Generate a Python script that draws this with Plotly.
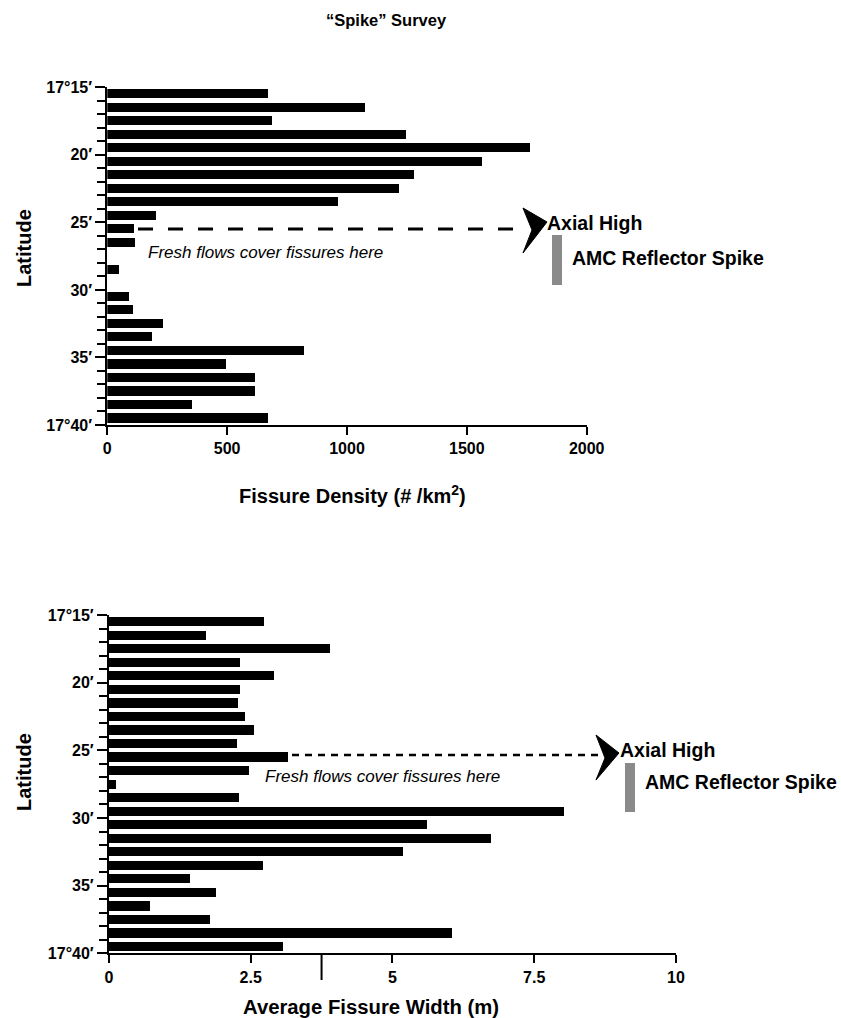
import plotly.graph_objects as go

W, H = 841, 1018

# ---- data ----
lat_start_min = list(range(15, 40))  # bins 17°15'-16' ... 17°39'-40'
density = [673, 1076, 688, 1246, 1763, 1565, 1281, 1218, 964, 206, 114, 116, 0,
           49, 0, 92, 107, 235, 186, 822, 496, 617, 617, 356, 672]
avg_width = [2.73, 1.71, 3.90, 2.31, 2.91, 2.31, 2.28, 2.40, 2.55, 2.25, 3.15, 2.47, 0.13,
             2.29, 8.02, 5.60, 6.74, 5.18, 2.71, 1.42, 1.89, 0.73, 1.78, 6.05, 3.06]
ytick_vals = [15, 20, 25, 30, 35, 40]
ytick_text = ["17°15′", "20′", "25′", "30′", "35′", "17°40′"]
x1_ticks = [0, 500, 1000, 1500, 2000]
x2_ticks = [0, 2.5, 5, 7.5, 10]
x2_ticktext = ["0", "2.5", "5", "7.5", "10"]

bar_centers = [m + 0.5 for m in lat_start_min]

FONT = "Liberation Sans, Arial, sans-serif"


def X(px):
    return px / W


def Y(py):
    return 1 - py / H


fig = go.Figure()
fig.add_trace(go.Bar(x=density, y=bar_centers, orientation="h", width=0.68,
                     marker=dict(color="black", line=dict(width=0)),
                     xaxis="x", yaxis="y", showlegend=False))
fig.add_trace(go.Bar(x=avg_width, y=bar_centers, orientation="h", width=0.68,
                     marker=dict(color="black", line=dict(width=0)),
                     xaxis="x2", yaxis="y2", showlegend=False))

tickfont = dict(family=FONT, size=16, color="black", weight="bold")
yax_common = dict(range=[40, 15], tickmode="array", tickvals=ytick_vals, ticktext=ytick_text,
                  ticks="outside", ticklen=10, tickwidth=2, tickcolor="black",
                  showline=True, linewidth=2, linecolor="black", showgrid=False,
                  zeroline=False, tickfont=tickfont,
                  minor=dict(tickmode="array", tickvals=list(range(15, 41)), ticks="outside",
                             ticklen=8, tickwidth=2, tickcolor="black", showgrid=False))
xax_common = dict(ticks="outside", ticklen=8, tickwidth=2, tickcolor="black",
                  showline=True, linewidth=2, linecolor="black", showgrid=False,
                  zeroline=False, tickfont=tickfont)

fig.update_layout(
    autosize=True,
    margin=dict(l=0, r=0, t=0, b=0, autoexpand=False),
    paper_bgcolor="white", plot_bgcolor="white",
    bargap=0,
    xaxis=dict(domain=[X(107.3), X(586.7)], range=[0, 2000], tickmode="array",
               tickvals=x1_ticks, anchor="y", **xax_common),
    yaxis=dict(domain=[Y(425), Y(87.3)], anchor="x", **yax_common),
    xaxis2=dict(domain=[X(108.9), X(676)], range=[0, 10], tickmode="array",
                tickvals=x2_ticks, ticktext=x2_ticktext, anchor="y2", **xax_common),
    yaxis2=dict(domain=[Y(953.3), Y(615)], anchor="x2", **yax_common),
)

ann = []


def text(px, py, s, size, bold=True, italic=False, angle=0, xanchor="center"):
    ann.append(dict(x=X(px), y=Y(py), xref="paper", yref="paper", text=s, showarrow=False,
                    xanchor=xanchor, yanchor="middle", textangle=angle,
                    font=dict(family=FONT, size=size, color="black",
                              weight="bold" if bold else "normal",
                              style="italic" if italic else "normal")))


text(386, 20, "“Spike” Survey", 16.5)
text(352, 494, "Fissure Density (# /km<sup>2</sup>)", 20)
text(371, 1007, "Average Fissure Width (m)", 20.3)
text(24, 248, "Latitude", 20, angle=-90)
text(24, 772, "Latitude", 20, angle=-90)
text(545, 223, "Axial High", 19.5, xanchor="left")
text(570, 258, "AMC Reflector Spike", 19.5, xanchor="left")
text(618, 750, "Axial High", 19.5, xanchor="left")
text(643, 782, "AMC Reflector Spike", 19.5, xanchor="left")
text(146, 253, "Fresh flows cover fissures here", 17, bold=False, italic=True, xanchor="left")
text(263, 776, "Fresh flows cover fissures here", 17, bold=False, italic=True, xanchor="left")
fig.update_layout(annotations=ann)

shapes = []
# dashed guide lines
shapes.append(dict(type="line", xref="paper", yref="paper", x0=X(138), x1=X(522), y0=Y(229), y1=Y(229),
                   line=dict(color="black", width=3, dash="15px,15px")))
shapes.append(dict(type="line", xref="paper", yref="paper", x0=X(292), x1=X(600), y0=Y(755), y1=Y(755),
                   line=dict(color="black", width=2.5, dash="7px,6px")))


def poly(pts):
    return "M " + " L ".join(f"{X(a):.5f},{Y(b):.5f}" for a, b in pts) + " Z"


# arrowheads
shapes.append(dict(type="path", xref="paper", yref="paper",
                   path=poly([(523, 208), (547, 222), (523, 253), (532, 230)]),
                   fillcolor="black", line=dict(color="black", width=1)))
shapes.append(dict(type="path", xref="paper", yref="paper",
                   path=poly([(596, 735), (619, 753), (596, 780), (605, 758)]),
                   fillcolor="black", line=dict(color="black", width=1)))
# AMC reflector spike gray bars
shapes.append(dict(type="rect", xref="paper", yref="paper", x0=X(552), x1=X(562), y0=Y(285), y1=Y(235),
                   fillcolor="#8a8a8a", line=dict(width=0)))
shapes.append(dict(type="rect", xref="paper", yref="paper", x0=X(625), x1=X(635), y0=Y(812), y1=Y(763),
                   fillcolor="#8a8a8a", line=dict(width=0)))
# long extra tick on bottom axis
shapes.append(dict(type="line", xref="x2", yref="paper", x0=3.75, x1=3.75, y0=Y(953.3), y1=Y(980),
                   line=dict(color="black", width=2)))
fig.update_layout(shapes=shapes)

fig.write_html(
    "out.html",
    config={"displayModeBar": False, "responsive": True},
    default_width="100vw",
    default_height="100vh",
    post_script=("document.body.style.margin='0';"
                 "document.documentElement.style.overflow='hidden';"
                 "document.body.style.overflow='hidden';"
                 "Plotly.Plots.resize(document.getElementById('{plot_id}'));"),
)
